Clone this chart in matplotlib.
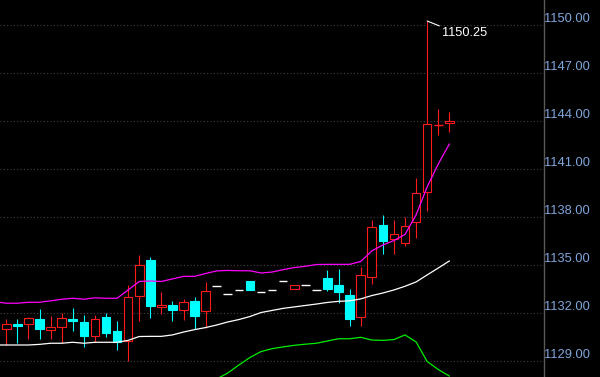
import numpy as np
import matplotlib
matplotlib.use('Agg')
import matplotlib.pyplot as plt

# candle data (price), index 0..40
opens = [1130.98, 1131.31, 1131.29, 1131.61, 1130.92, 1131.11, 1131.63, 1131.42, 1130.58, 1131.73,
         1130.87, 1130.27, 1133.08, 1135.31, 1132.38, 1132.50, 1132.19, 1132.75, 1132.14, 1133.69,
         1133.19, 1133.44, 1134.00, 1133.29, 1133.42, 1133.98, 1133.48, 1133.75, 1133.44, 1134.19,
         1133.77, 1133.13, 1131.77, 1134.23, 1137.50, 1136.60, 1136.36, 1137.67, 1139.54, 1143.73,
         1143.86]
closes = [1131.29, 1131.19, 1131.67, 1131.02, 1131.11, 1131.71, 1131.52, 1130.58, 1131.61, 1130.77,
          1130.21, 1132.98, 1134.98, 1132.44, 1132.50, 1132.19, 1132.67, 1131.83, 1133.38, 1133.69,
          1133.19, 1133.44, 1133.46, 1133.29, 1133.42, 1133.98, 1133.75, 1133.75, 1133.44, 1133.52,
          1133.33, 1131.64, 1134.36, 1137.36, 1136.52, 1136.92, 1137.42, 1139.48, 1143.79, 1143.73,
          1144.00]
highs = [1131.61, 1131.61, 1131.77, 1132.23, 1131.81, 1131.98, 1132.29, 1131.88, 1131.88, 1131.98,
         1131.50, 1133.75, 1135.63, 1135.52, 1133.33, 1132.75, 1132.88, 1133.02, 1133.92, 1133.69,
         1133.19, 1133.44, 1134.00, 1133.29, 1133.42, 1133.98, 1133.75, 1133.75, 1133.44, 1134.69,
         1134.75, 1133.50, 1134.89, 1137.81, 1138.13, 1137.81, 1138.02, 1140.46, 1150.25, 1144.75,
         1144.58]
lows = [1130.00, 1130.14, 1130.36, 1130.39, 1130.39, 1130.14, 1130.89, 1129.89, 1130.21, 1130.52,
        1129.69, 1129.00, 1131.52, 1131.71, 1131.92, 1131.52, 1131.56, 1131.00, 1131.05, 1133.69,
        1133.19, 1133.44, 1133.46, 1133.29, 1133.42, 1133.98, 1133.48, 1133.75, 1133.44, 1133.39,
        1132.64, 1131.19, 1131.19, 1133.81, 1135.71, 1135.71, 1136.21, 1136.71, 1138.38, 1143.12,
        1143.33]

# bands, index -1..40
upper = [1132.71, 1132.61, 1132.61, 1132.67, 1132.67, 1132.76, 1132.86, 1132.92, 1132.86, 1132.95,
         1132.92, 1132.92, 1133.44, 1133.97, 1134.00, 1133.97, 1134.13, 1134.29, 1134.29, 1134.47,
         1134.63, 1134.66, 1134.64, 1134.64, 1134.50, 1134.56, 1134.71, 1134.84, 1134.92, 1135.03,
         1135.04, 1135.04, 1135.04, 1135.22, 1135.88, 1136.25, 1136.53, 1136.91, 1138.13, 1139.88,
         1141.31, 1142.56]
middle = [1130.00, 1130.00, 1130.00, 1130.00, 1130.04, 1130.11, 1130.11, 1130.17, 1130.11, 1130.17,
          1130.17, 1130.17, 1130.29, 1130.53, 1130.54, 1130.54, 1130.63, 1130.81, 1130.96, 1131.09,
          1131.25, 1131.44, 1131.59, 1131.78, 1132.03, 1132.16, 1132.29, 1132.38, 1132.47, 1132.56,
          1132.66, 1132.73, 1132.76, 1132.88, 1133.09, 1133.25, 1133.44, 1133.67, 1133.94, 1134.38,
          1134.81, 1135.25]
lower = [1127.30, 1127.39, 1127.39, 1127.33, 1127.42, 1127.45, 1127.36, 1127.42, 1127.36, 1127.39,
         1127.42, 1127.42, 1127.15, 1127.09, 1127.09, 1127.12, 1127.13, 1127.33, 1127.62, 1127.72,
         1127.88, 1128.25, 1128.75, 1129.22, 1129.59, 1129.77, 1129.88, 1129.98, 1130.05, 1130.11,
         1130.25, 1130.39, 1130.39, 1130.48, 1130.31, 1130.29, 1130.34, 1130.63, 1130.19, 1128.97,
         1128.47, 1128.06]

yticks = [1129, 1132, 1135, 1138, 1141, 1144, 1147, 1150]
peak_label = '1150.25'

RED = '#ff1a1a'
CYAN = '#00ffff'

fig = plt.figure(figsize=(6, 3.77), dpi=100, facecolor='black')
ax = fig.add_axes([0, 0, 544 / 600, 1])
ax.set_facecolor('black')

x = np.arange(len(opens))
band_x = np.arange(-1, len(opens))
o = np.array(opens)
c = np.array(closes)
h = np.array(highs)
l = np.array(lows)
w = 0.78

up = c > o
down = c < o
flat = c == o

# wicks: red for up / doji with shadow, cyan for down
wick_cols = [RED if (c[i] > o[i] or (c[i] == o[i] and h[i] != l[i])) else CYAN for i in x]
ax.vlines(x, l, h, colors=wick_cols, lw=0.8, zorder=2)

# bodies
ax.bar(x[up], (c - o)[up], bottom=o[up], width=w, facecolor='black',
       edgecolor=RED, lw=0.8, zorder=3)
ax.bar(x[down], (c - o)[down], bottom=o[down], width=w, facecolor=CYAN,
       edgecolor=CYAN, lw=0.8, zorder=3)
flat_cols = ['white' if h[i] == l[i] else RED for i in x[flat]]
ax.hlines(o[flat], x[flat] - w / 2, x[flat] + w / 2, colors=flat_cols, lw=1.0, zorder=3)

# bands
ax.plot(band_x, upper, color='#ff00ff', lw=0.9, zorder=4)
ax.plot(band_x, middle, color='white', lw=0.9, zorder=4)
ax.plot(band_x, lower, color='#00ee00', lw=0.9, zorder=4)

# peak annotation
imax = int(np.argmax(h))
ax.annotate(peak_label, xy=(imax, h[imax]), xytext=(15, -6), textcoords='offset pixels',
            ha='left', va='top', color='white', fontsize=9.2, family='Liberation Sans',
            arrowprops=dict(arrowstyle='-', color='white', lw=0.8, shrinkA=0, shrinkB=0,
                            relpos=(0, 1)), zorder=5)

ax.set_xlim(-0.569, 48.55)
ax.set_ylim(1128.0, 1151.5625)

ax.set_yticks(yticks)
ax.set_yticklabels([f'{v:.2f}' for v in yticks])
ax.yaxis.tick_right()
ax.tick_params(axis='y', length=0, pad=0, labelcolor='#7ea8dc', labelsize=9.3)
for lab in ax.get_yticklabels():
    lab.set_family('Liberation Sans')
    lab.set_verticalalignment('bottom')
ax.set_xticks([])
ax.grid(axis='y', color='#444444', lw=0.8, linestyle=(0, (1, 2)), zorder=0)
ax.set_axisbelow(True)

for side in ['left', 'top', 'bottom']:
    ax.spines[side].set_visible(False)
ax.spines['right'].set_color('#5a5a5a')
ax.spines['right'].set_linewidth(1)

fig.savefig('out.png', dpi=100, facecolor='black')
